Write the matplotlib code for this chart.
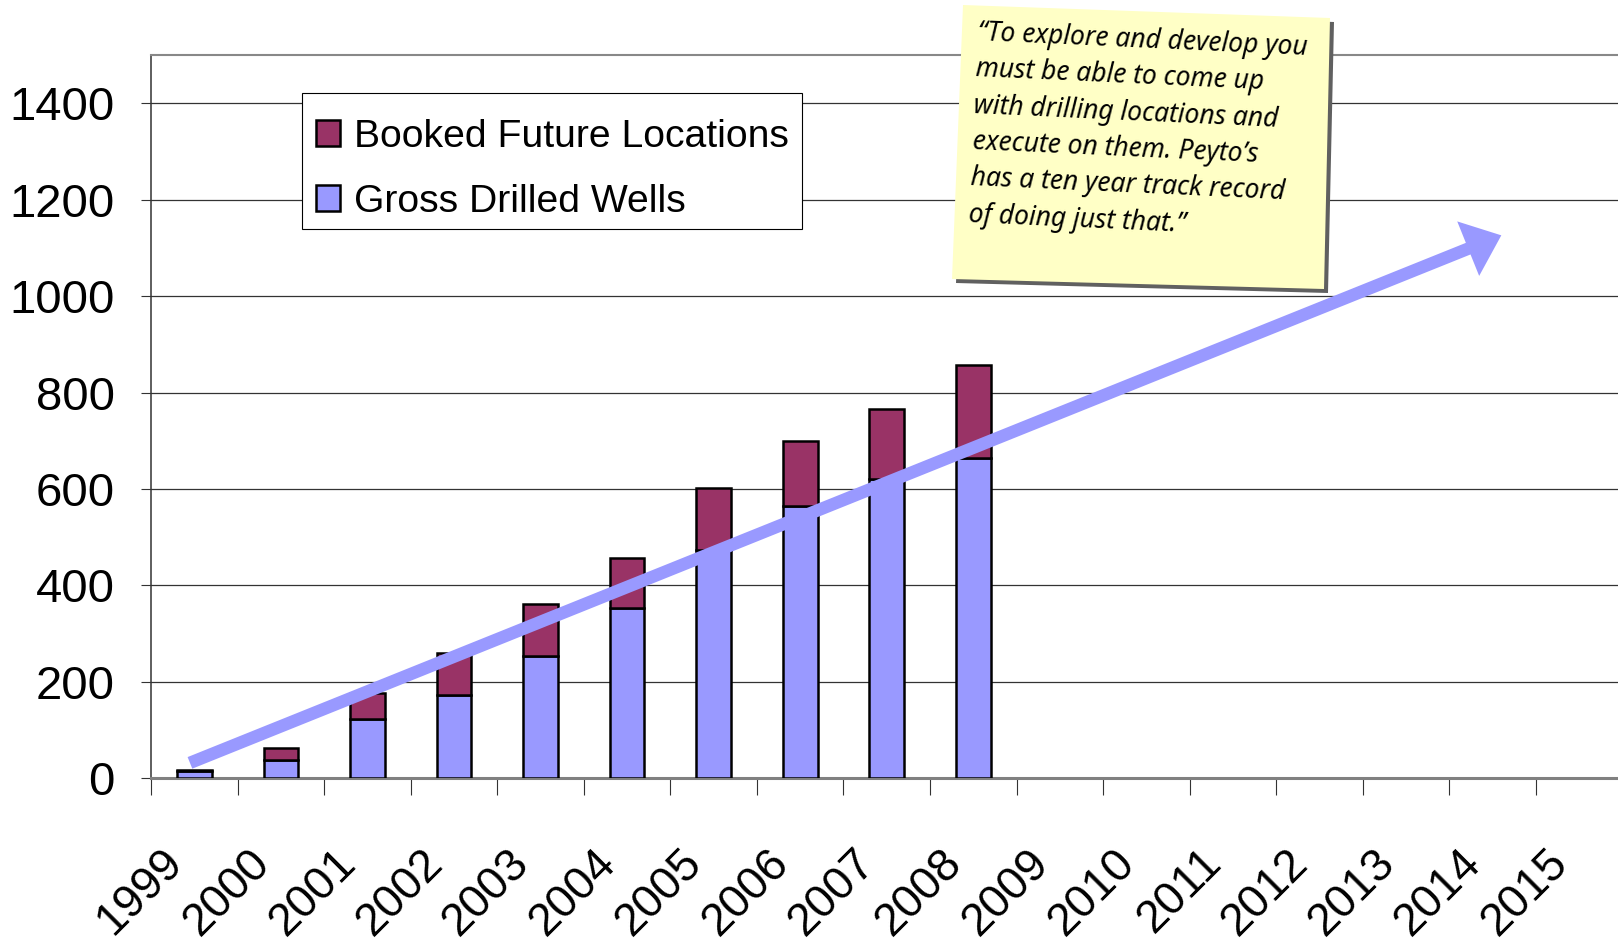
import matplotlib
matplotlib.use('Agg')
import matplotlib.pyplot as plt
import numpy as np
from matplotlib.patches import Polygon, FancyArrowPatch, Rectangle
from matplotlib.transforms import ScaledTranslation

# ---------------- data ----------------
years = [str(y) for y in range(1999, 2016)]
gross_wells = [15, 38, 123, 173, 254, 354, 473, 565, 620, 664]
booked_locations = [3, 24, 53, 86, 107, 102, 130, 135, 146, 193]
y_ticks = [0, 200, 400, 600, 800, 1000, 1200, 1400]
trend_x = [-0.05, 15.10]
trend_y = [32, 1126]
series_labels = ['Gross Drilled Wells', 'Booked Future Locations']
note_text = ("\u201cTo explore and develop you\n"
             "must be able to come up\n"
             "with drilling locations and\n"
             "execute on them. Peyto\u2019s\n"
             "has a ten year track record\n"
             "of doing just that.\u201d")

plt.rcParams['font.family'] = ['Liberation Sans', 'DejaVu Sans']

W, H = 1618, 949
fig = plt.figure(figsize=(W / 100, H / 100), dpi=100)
ax = fig.add_axes([151 / W, 1 - 778.3 / H, (1622.5 - 151) / W, (778.3 - 55) / H])

x = np.arange(len(gross_wells))
ax.bar(x, gross_wells, width=0.4, color='#9999FF', edgecolor='black',
       linewidth=1.8, label=series_labels[0], zorder=3)
ax.bar(x, booked_locations, bottom=gross_wells, width=0.4, color='#993366',
       edgecolor='black', linewidth=1.8, label=series_labels[1], zorder=3)

ax.set_xlim(-0.5, len(years) - 0.5)
ax.set_ylim(0, 1500)
ax.set_yticks(y_ticks)
ax.set_yticklabels([str(v) for v in y_ticks], fontsize=34)
ax.tick_params(axis='y', length=7, width=0.8, color='#333333', pad=19, direction='out')
ax.yaxis.grid(True, color='#333333', linewidth=0.9)
ax.set_axisbelow(True)

ax.set_xticks(np.arange(len(years)))
ax.set_xticks(np.arange(len(years) + 1) - 0.5, minor=True)
ax.tick_params(axis='x', which='major', length=0, pad=56)
ax.tick_params(axis='x', which='minor', length=12, width=0.8, color='#333333')
ax.set_xticklabels(years, fontsize=33, rotation=45, ha='right', va='center',
                   rotation_mode='anchor')
off = ScaledTranslation(-0.18, 0, fig.dpi_scale_trans)
for lab in ax.get_xticklabels():
    lab.set_transform(lab.get_transform() + off)

ax.spines['left'].set_color('#333333')
ax.spines['left'].set_linewidth(1.1)
ax.spines['top'].set_color('#888888')
ax.spines['top'].set_linewidth(1.5)
ax.spines['bottom'].set_color('#808080')
ax.spines['bottom'].set_linewidth(2.2)
ax.spines['right'].set_visible(False)

# trend arrow
arrow = FancyArrowPatch((trend_x[0], trend_y[0]), (trend_x[1], trend_y[1]),
                        arrowstyle='simple,head_length=25.7,head_width=42.3,tail_width=9',
                        mutation_scale=1, color='#9999FF', lw=0, shrinkA=0, shrinkB=0,
                        zorder=5, clip_on=False)
ax.add_patch(arrow)


def fp(px, py):
    return (px / W, 1 - py / H)


# legend (frame drawn separately)
lx0, ly0, lx1, ly1 = 302, 93, 802, 229
frame = Rectangle(fp(lx0, ly1), (lx1 - lx0) / W, (ly1 - ly0) / H,
                  transform=fig.transFigure, facecolor='white',
                  edgecolor='black', linewidth=0.8, zorder=6)
fig.add_artist(frame)
h, l = ax.get_legend_handles_labels()
leg = fig.legend(h[::-1], l[::-1], loc='upper left',
                 bbox_to_anchor=fp(lx0, 105), bbox_transform=fig.transFigure,
                 borderaxespad=0, fontsize=28.2, frameon=False,
                 handlelength=0.62, handleheight=0.62,
                 handletextpad=0.36, borderpad=0.35, labelspacing=0.74)
leg.set_zorder(7)

# sticky note
note_pts = [(963, 5), (1330, 18), (1324, 289), (952, 279)]
shadow = Polygon([fp(px + 4, py + 4) for px, py in note_pts], closed=True,
                 transform=fig.transFigure, facecolor='#606060', edgecolor='none', zorder=10)
note = Polygon([fp(px, py) for px, py in note_pts], closed=True,
               transform=fig.transFigure, facecolor='#FFFFC6', edgecolor='none', zorder=11)
fig.add_artist(shadow)
fig.add_artist(note)
tx, ty = fp(978, 19)
fig.text(tx, ty, note_text, rotation=-2.6, rotation_mode='anchor', ha='left', va='top',
         fontsize=19, family=['Noto Sans', 'DejaVu Sans'], style='italic',
         linespacing=1.40, zorder=12)

fig.savefig('out.png', dpi=100)
